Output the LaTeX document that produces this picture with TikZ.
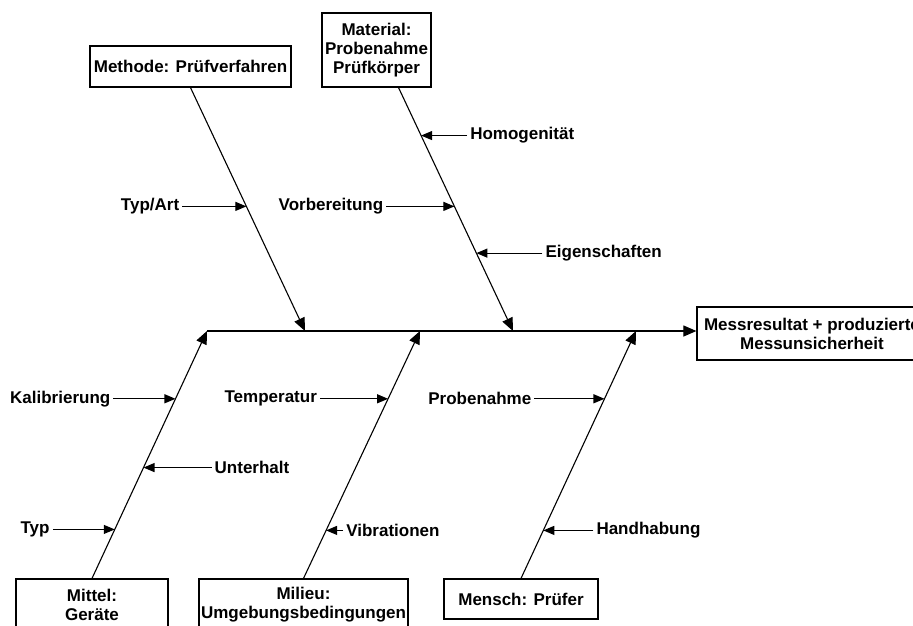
\documentclass[tikz,border=0pt]{standalone}
\usepackage{fontspec}
\setmainfont{Liberation Sans}
\usepackage{tikz}
\usetikzlibrary{arrows.meta,positioning,calc}
\tikzset{
  causebox/.style={
    draw,line width=1.2pt,align=center,inner sep=0pt,
    font=\fontsize{17pt}{19pt}\selectfont\bfseries
  },
  lbl/.style={inner sep=3pt,font=\fontsize{17pt}{19pt}\selectfont\bfseries},
  bone/.style={line width=1.1pt,-{Triangle[length=13pt,width=11pt]}},
  spine/.style={line width=1.1pt,-{Triangle[length=13pt,width=11pt]}},
  labelarrow/.style={line width=1.1pt,-{Triangle[length=11pt,width=9pt]}}
}
\begin{document}
\begin{tikzpicture}[x=1pt,y=-1pt]
  \useasboundingbox (0,0) rectangle (913,625);
  \clip (0,0) rectangle (913,625);
  % cause boxes
  \node[causebox,minimum width=201pt,minimum height=41pt] (methode) at (190.5,66.5)
    {Methode: Prüfverfahren};
  \node[causebox,minimum width=109pt,minimum height=74pt] (material) at (376.5,50)
    {Material:\\Probenahme\\Prüfkörper};
  \node[causebox,minimum width=152pt,minimum height=52pt] (mittel) at (92,605)
    {Mittel:\\Geräte};
  \node[causebox,minimum width=209pt,minimum height=52pt] (milieu) at (303.5,605)
    {Milieu:\\Umgebungsbedingungen};
  \node[causebox,minimum width=154pt,minimum height=40pt] (mensch) at (521,599)
    {Mensch: Prüfer};
  \node[causebox,minimum width=230pt,minimum height=53pt] (result) at (812,333.5)
    {Messresultat + produzierte\\Messunsicherheit};
  % bone ends on the spine
  \coordinate (met-b) at (305,331);
  \coordinate (mat-b) at (513,331);
  \coordinate (mit-b) at (207,331);
  \coordinate (mil-b) at (420,331);
  \coordinate (men-b) at (636,331);
  \coordinate (mat-a) at ($(material.south west)!0.7!(material.south east)$);
  % spine and bones
  \draw[spine] (mit-b) -- (result.west |- mit-b);
  \draw[bone] (methode.south) -- (met-b);
  \draw[bone] (mat-a) -- (mat-b);
  \draw[bone] (mittel.north) -- (mit-b);
  \draw[bone] (milieu.north) -- (mil-b);
  \draw[bone] (mensch.north) -- (men-b);
  % points on the bones
  \coordinate (ta) at ($(methode.south)!0.488!(met-b)$);
  \coordinate (vb) at ($(mat-a)!0.488!(mat-b)$);
  \coordinate (ho) at ($(mat-a)!0.197!(mat-b)$);
  \coordinate (ei) at ($(mat-a)!0.68!(mat-b)$);
  \coordinate (ka) at ($(mittel.north)!0.726!(mit-b)$);
  \coordinate (un) at ($(mittel.north)!0.448!(mit-b)$);
  \coordinate (ty) at ($(mittel.north)!0.198!(mit-b)$);
  \coordinate (te) at ($(milieu.north)!0.726!(mil-b)$);
  \coordinate (vi) at ($(milieu.north)!0.194!(mil-b)$);
  \coordinate (pr) at ($(mensch.north)!0.726!(men-b)$);
  \coordinate (ha) at ($(mensch.north)!0.194!(men-b)$);
  % sub causes
  \node[lbl,left=64pt of ta] (typart) {Typ/Art};
  \node[lbl,left=68pt of vb] (vorb) {Vorbereitung};
  \node[lbl,right=46pt of ho] (homog) {Homogenität};
  \node[lbl,right=66pt of ei] (eigen) {Eigenschaften};
  \node[lbl,left=62pt of ka] (kalib) {Kalibrierung};
  \node[lbl,right=68pt of un] (unter) {Unterhalt};
  \node[lbl,left=62pt of ty] (typ) {Typ};
  \node[lbl,left=68pt of te] (temp) {Temperatur};
  \node[lbl,right=17pt of vi] (vibr) {Vibrationen};
  \node[lbl,left=70pt of pr] (probe) {Probenahme};
  \node[lbl,right=50pt of ha] (handh) {Handhabung};
  \foreach \s/\t in {typart/ta,vorb/vb,homog/ho,eigen/ei,kalib/ka,unter/un,
                     typ/ty,temp/te,vibr/vi,probe/pr,handh/ha}
    \draw[labelarrow] (\s) -- (\t);
\end{tikzpicture}
\end{document}
